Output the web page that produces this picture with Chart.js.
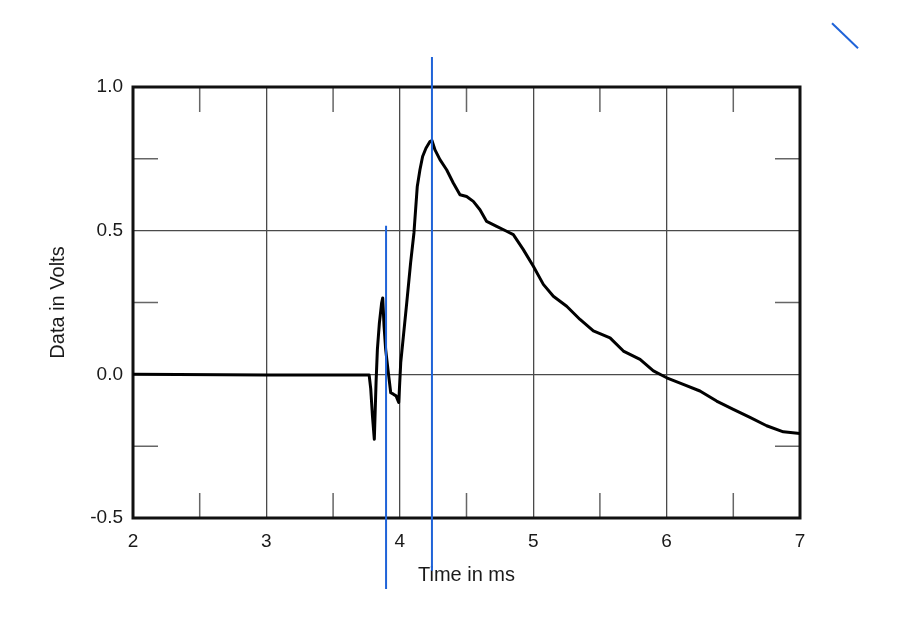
<!DOCTYPE html>
<html>
<head>
<meta charset="utf-8">
<script src="https://cdn.jsdelivr.net/npm/chart.js@4/dist/chart.umd.min.js"></script>
<style>
  html, body { margin: 0; padding: 0; background: #fff; }
  #wrap { width: 916px; height: 622px; }
</style>
</head>
<body>
<div id="wrap"><canvas id="c" width="916" height="622"></canvas></div>
<script>
// ---- data ----
const timeMs = [2.0, 3.0, 3.77, 3.782, 3.795, 3.809, 3.822, 3.832, 3.847, 3.864, 3.872, 3.882, 3.894, 3.914, 3.932, 3.952, 3.972, 3.992, 4.007, 4.027, 4.052, 4.081, 4.106, 4.131, 4.151, 4.171, 4.196, 4.226, 4.241, 4.264, 4.301, 4.351, 4.401, 4.451, 4.501, 4.551, 4.601, 4.651, 4.726, 4.801, 4.851, 4.926, 5.001, 5.076, 5.151, 5.251, 5.351, 5.451, 5.576, 5.676, 5.801, 5.901, 6.001, 6.125, 6.25, 6.375, 6.5, 6.625, 6.75, 6.875, 7.0];
const volts  = [0.0, -0.002, -0.002, -0.05, -0.145, -0.226, -0.029, 0.087, 0.179, 0.249, 0.266, 0.168, 0.087, 0.006, -0.064, -0.069, -0.075, -0.098, 0.041, 0.133, 0.249, 0.388, 0.492, 0.654, 0.712, 0.758, 0.787, 0.810, 0.814, 0.781, 0.747, 0.712, 0.666, 0.625, 0.619, 0.602, 0.573, 0.532, 0.515, 0.498, 0.486, 0.434, 0.376, 0.313, 0.272, 0.237, 0.191, 0.151, 0.127, 0.081, 0.052, 0.012, -0.012, -0.035, -0.058, -0.093, -0.122, -0.150, -0.179, -0.200, -0.206];

// blue marker lines (annotation strokes in the reference)
const markerA_x = [4.241, 4.241];
const markerA_y = [1.104, -0.684];
const markerB_x = [3.897, 3.897];
const markerB_y = [0.517, -0.747];
const markerC_x = [7.24, 7.435];
const markerC_y = [1.222, 1.135];

// axis ticks
const xMajorTicks = [2, 3, 4, 5, 6, 7];
const yMajorTicks = [-0.5, 0.0, 0.5, 1.0];
const xMinorTicks = [2.5, 3.5, 4.5, 5.5, 6.5];
const yMinorTicks = [-0.25, 0.25, 0.75];

const xTitle = 'Time in ms';
const yTitle = 'Data in Volts';

// ---- build ----
const toPts = (xs, ys) => xs.map((x, i) => ({ x: x, y: ys[i] }));
const BLUE = '#1f63d8';

const framePlugin = {
  id: 'frame',
  beforeDatasetsDraw(chart) {
    const { ctx, chartArea: a, scales } = chart;
    const xs = scales.x, ys = scales.y;
    const L = 25;
    ctx.save();
    ctx.strokeStyle = '#666';
    ctx.lineWidth = 1.5;
    ctx.beginPath();
    xMinorTicks.forEach(v => {
      const px = xs.getPixelForValue(v);
      ctx.moveTo(px, a.top); ctx.lineTo(px, a.top + L);
      ctx.moveTo(px, a.bottom); ctx.lineTo(px, a.bottom - L);
    });
    yMinorTicks.forEach(v => {
      const py = ys.getPixelForValue(v);
      ctx.moveTo(a.left, py); ctx.lineTo(a.left + L, py);
      ctx.moveTo(a.right, py); ctx.lineTo(a.right - L, py);
    });
    ctx.stroke();
    ctx.strokeStyle = '#111';
    ctx.lineWidth = 3;
    ctx.strokeRect(a.left, a.top, a.right - a.left, a.bottom - a.top);
    ctx.restore();
  }
};

new Chart(document.getElementById('c'), {
  type: 'scatter',
  data: {
    datasets: [
      { data: toPts(markerA_x, markerA_y), showLine: true, borderColor: BLUE, borderWidth: 2, pointRadius: 0, clip: false },
      { data: toPts(markerB_x, markerB_y), showLine: true, borderColor: BLUE, borderWidth: 2, pointRadius: 0, clip: false },
      { data: toPts(markerC_x, markerC_y), showLine: true, borderColor: BLUE, borderWidth: 2, pointRadius: 0, clip: false },
      { data: toPts(timeMs, volts), showLine: true, borderColor: '#000', borderWidth: 3, pointRadius: 0, tension: 0, borderJoinStyle: 'round' }
    ]
  },
  options: {
    responsive: false,
    animation: false,
    devicePixelRatio: 1,
    layout: { padding: { top: 87, right: 116, left: 0, bottom: 0 } },
    plugins: { legend: { display: false }, tooltip: { enabled: false } },
    scales: {
      x: {
        type: 'linear', min: 2, max: 7,
        afterBuildTicks: s => { s.ticks = xMajorTicks.map(v => ({ value: v })); },
        afterFit: s => { s.height = 104; },
        grid: { color: '#4a4a4a', lineWidth: 1.3, drawTicks: false },
        border: { display: false },
        ticks: { padding: 12, color: '#1a1a1a', font: { family: 'Liberation Sans', size: 19 }, callback: v => String(v) },
        title: { display: true, text: xTitle, color: '#1a1a1a', font: { family: 'Liberation Sans', size: 20 }, padding: { top: 0, bottom: 35 } }
      },
      y: {
        type: 'linear', min: -0.5, max: 1.0,
        afterBuildTicks: s => { s.ticks = yMajorTicks.map(v => ({ value: v })); },
        afterFit: s => { s.width = 133; },
        grid: { color: '#4a4a4a', lineWidth: 1.3, drawTicks: false },
        border: { display: false },
        ticks: { padding: 10, color: '#1a1a1a', font: { family: 'Liberation Sans', size: 19 }, callback: v => Number(v).toFixed(1) },
        title: { display: true, text: yTitle, color: '#1a1a1a', font: { family: 'Liberation Sans', size: 20 }, padding: { top: 46, bottom: 0 } }
      }
    }
  },
  plugins: [framePlugin]
});
</script>
</body>
</html>
